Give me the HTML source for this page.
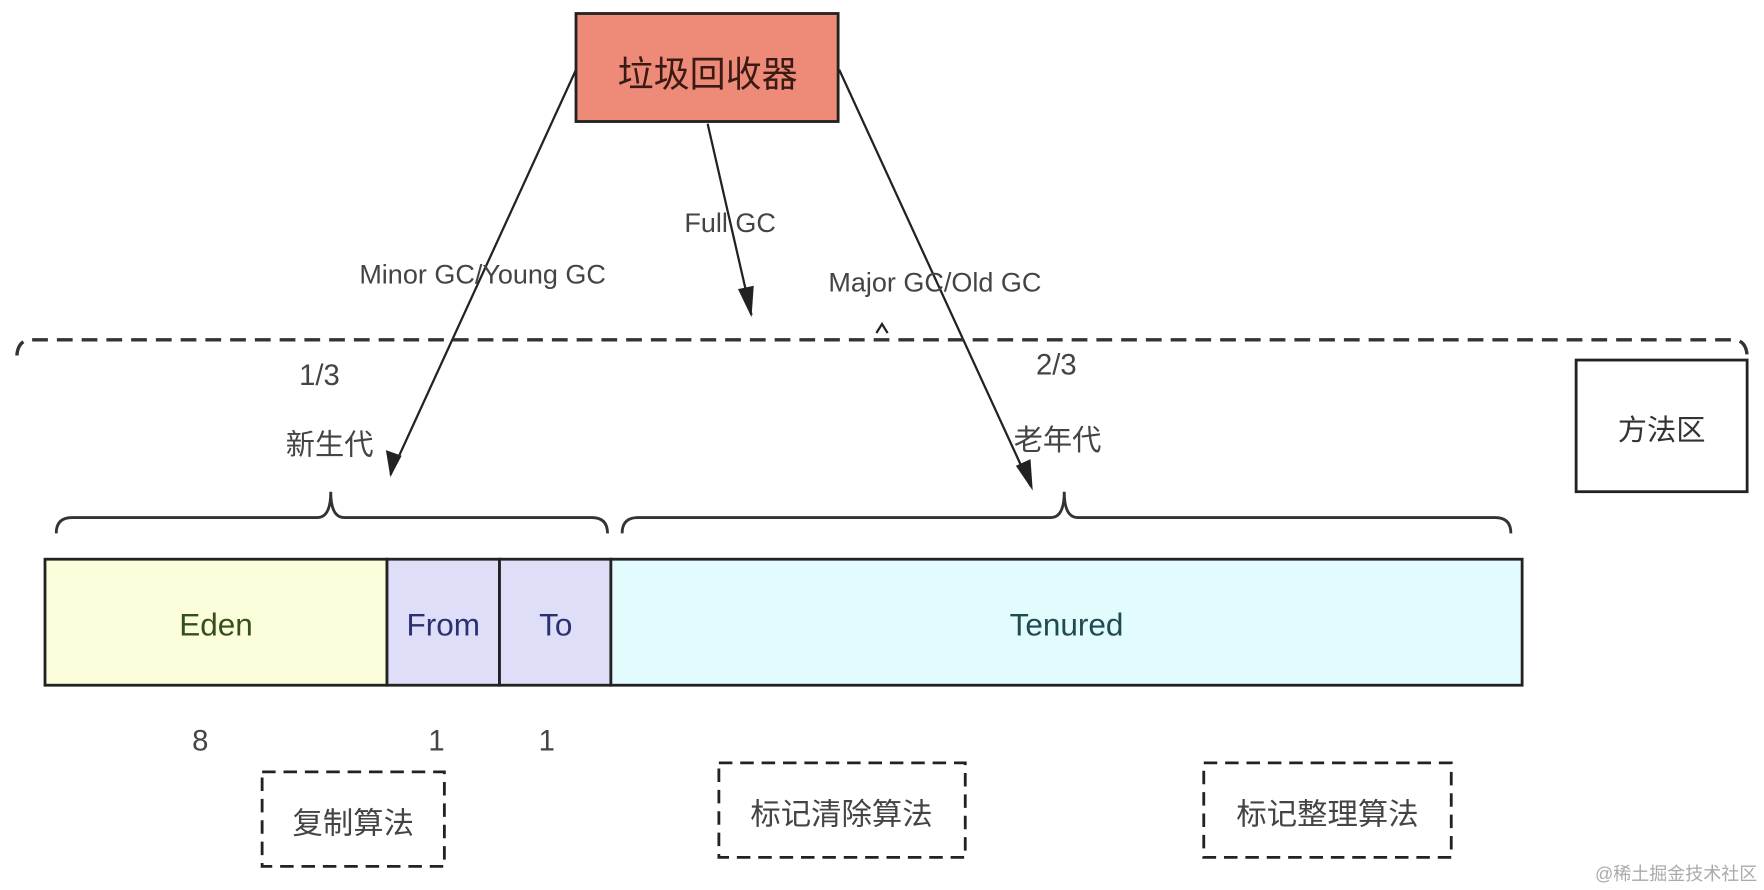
<!DOCTYPE html>
<html><head><meta charset="utf-8"><style>
html,body{margin:0;padding:0;background:#fff;}
svg{display:block;}
text{font-family:"Liberation Sans","Noto Sans CJK SC",sans-serif;}
</style></head><body>
<svg width="1764" height="890" viewBox="0 0 1568 791" preserveAspectRatio="none" xmlns="http://www.w3.org/2000/svg">
<defs>
<marker id="a" markerWidth="12" markerHeight="24" refX="6" refY="22" orient="auto-start-reverse" markerUnits="userSpaceOnUse" viewBox="0 0 12 24">
<path d="M0,0 L6,24 L12,0 Z" fill="#222"/>
</marker>
</defs>
<rect width="1568" height="791" fill="#fff"/>
<!-- red box -->
<rect x="512" y="12" width="233" height="96" fill="#ee8a78" stroke="#222" stroke-width="2.5"/>
<text x="629" y="77" font-size="32" fill="#3a1a14" text-anchor="middle">垃圾回收器</text>
<!-- arrows -->
<line x1="512" y1="62" x2="347" y2="422" stroke="#222" stroke-width="2"/>
<path d="M347,424 L343,400 L357,405 Z" fill="#222"/>
<line x1="629" y1="110" x2="668" y2="280" stroke="#222" stroke-width="2"/>
<path d="M668,282 L656,257 L670,254 Z" fill="#222"/>
<line x1="746" y1="62" x2="916" y2="432" stroke="#222" stroke-width="2"/>
<path d="M918,436 L903,414 L916,408 Z" fill="#222"/>
<text x="429" y="252" font-size="24" fill="#444" text-anchor="middle">Minor GC/Young GC</text>
<text x="649" y="206" font-size="24" fill="#444" text-anchor="middle">Full GC</text>
<text x="831" y="259" font-size="24" fill="#444" text-anchor="middle">Major GC/Old GC</text>
<!-- dashed big brace -->
<path d="M15,316 Q16,302 28,302 L1540,302 Q1553,302 1553,318" fill="none" stroke="#333" stroke-width="3" stroke-dasharray="14,8"/>
<path d="M779,296 L784,288 L789,296" fill="none" stroke="#222" stroke-width="2"/>
<text x="284" y="342" font-size="26" fill="#444" text-anchor="middle">1/3</text>
<text x="293" y="404" font-size="26" fill="#444" text-anchor="middle">新生代</text>
<text x="939" y="333" font-size="26" fill="#444" text-anchor="middle">2/3</text>
<text x="940" y="400" font-size="26" fill="#444" text-anchor="middle">老年代</text>
<!-- method area -->
<rect x="1401" y="320" width="152" height="117" fill="#fff" stroke="#222" stroke-width="2.5"/>
<text x="1477" y="391" font-size="26" fill="#333" text-anchor="middle">方法区</text>
<!-- braces -->
<path d="M50,474 Q50,460 64,460 L282,460 Q294,460 294,437 Q294,460 306,460 L526,460 Q540,460 540,474" fill="none" stroke="#333" stroke-width="2.5"/>
<path d="M553,474 Q553,460 567,460 L934,460 Q946,460 946,437 Q946,460 958,460 L1329,460 Q1343,460 1343,474" fill="none" stroke="#333" stroke-width="2.5"/>
<!-- memory boxes -->
<rect x="40" y="497" width="304" height="112" fill="#fbfddb" stroke="#222" stroke-width="2.5"/>
<rect x="344" y="497" width="100" height="112" fill="#dedef8" stroke="#222" stroke-width="2.5"/>
<rect x="444" y="497" width="99" height="112" fill="#dedef8" stroke="#222" stroke-width="2.5"/>
<rect x="543" y="497" width="810" height="112" fill="#e2fbfd" stroke="#222" stroke-width="2.5"/>
<text x="192" y="565" font-size="28" fill="#34501a" text-anchor="middle">Eden</text>
<text x="394" y="565" font-size="28" fill="#2a3070" text-anchor="middle">From</text>
<text x="494" y="565" font-size="28" fill="#2a3070" text-anchor="middle">To</text>
<text x="948" y="565" font-size="28" fill="#1e4a50" text-anchor="middle">Tenured</text>
<text x="178" y="667" font-size="26" fill="#444" text-anchor="middle">8</text>
<text x="388" y="667" font-size="26" fill="#444" text-anchor="middle">1</text>
<text x="486" y="667" font-size="26" fill="#444" text-anchor="middle">1</text>
<!-- dashed algo boxes -->
<rect x="233" y="686" width="162" height="84" fill="none" stroke="#222" stroke-width="2.5" stroke-dasharray="12,7"/>
<text x="314" y="741" font-size="27" fill="#444" text-anchor="middle">复制算法</text>
<rect x="639" y="678" width="219" height="84" fill="none" stroke="#222" stroke-width="2.5" stroke-dasharray="12,7"/>
<text x="748" y="733" font-size="27" fill="#444" text-anchor="middle">标记清除算法</text>
<rect x="1070" y="678" width="220" height="84" fill="none" stroke="#222" stroke-width="2.5" stroke-dasharray="12,7"/>
<text x="1180" y="733" font-size="27" fill="#444" text-anchor="middle">标记整理算法</text>
<text x="1562" y="782" font-size="16" fill="#aaa" text-anchor="end">@稀土掘金技术社区</text>
</svg>
</body></html>
